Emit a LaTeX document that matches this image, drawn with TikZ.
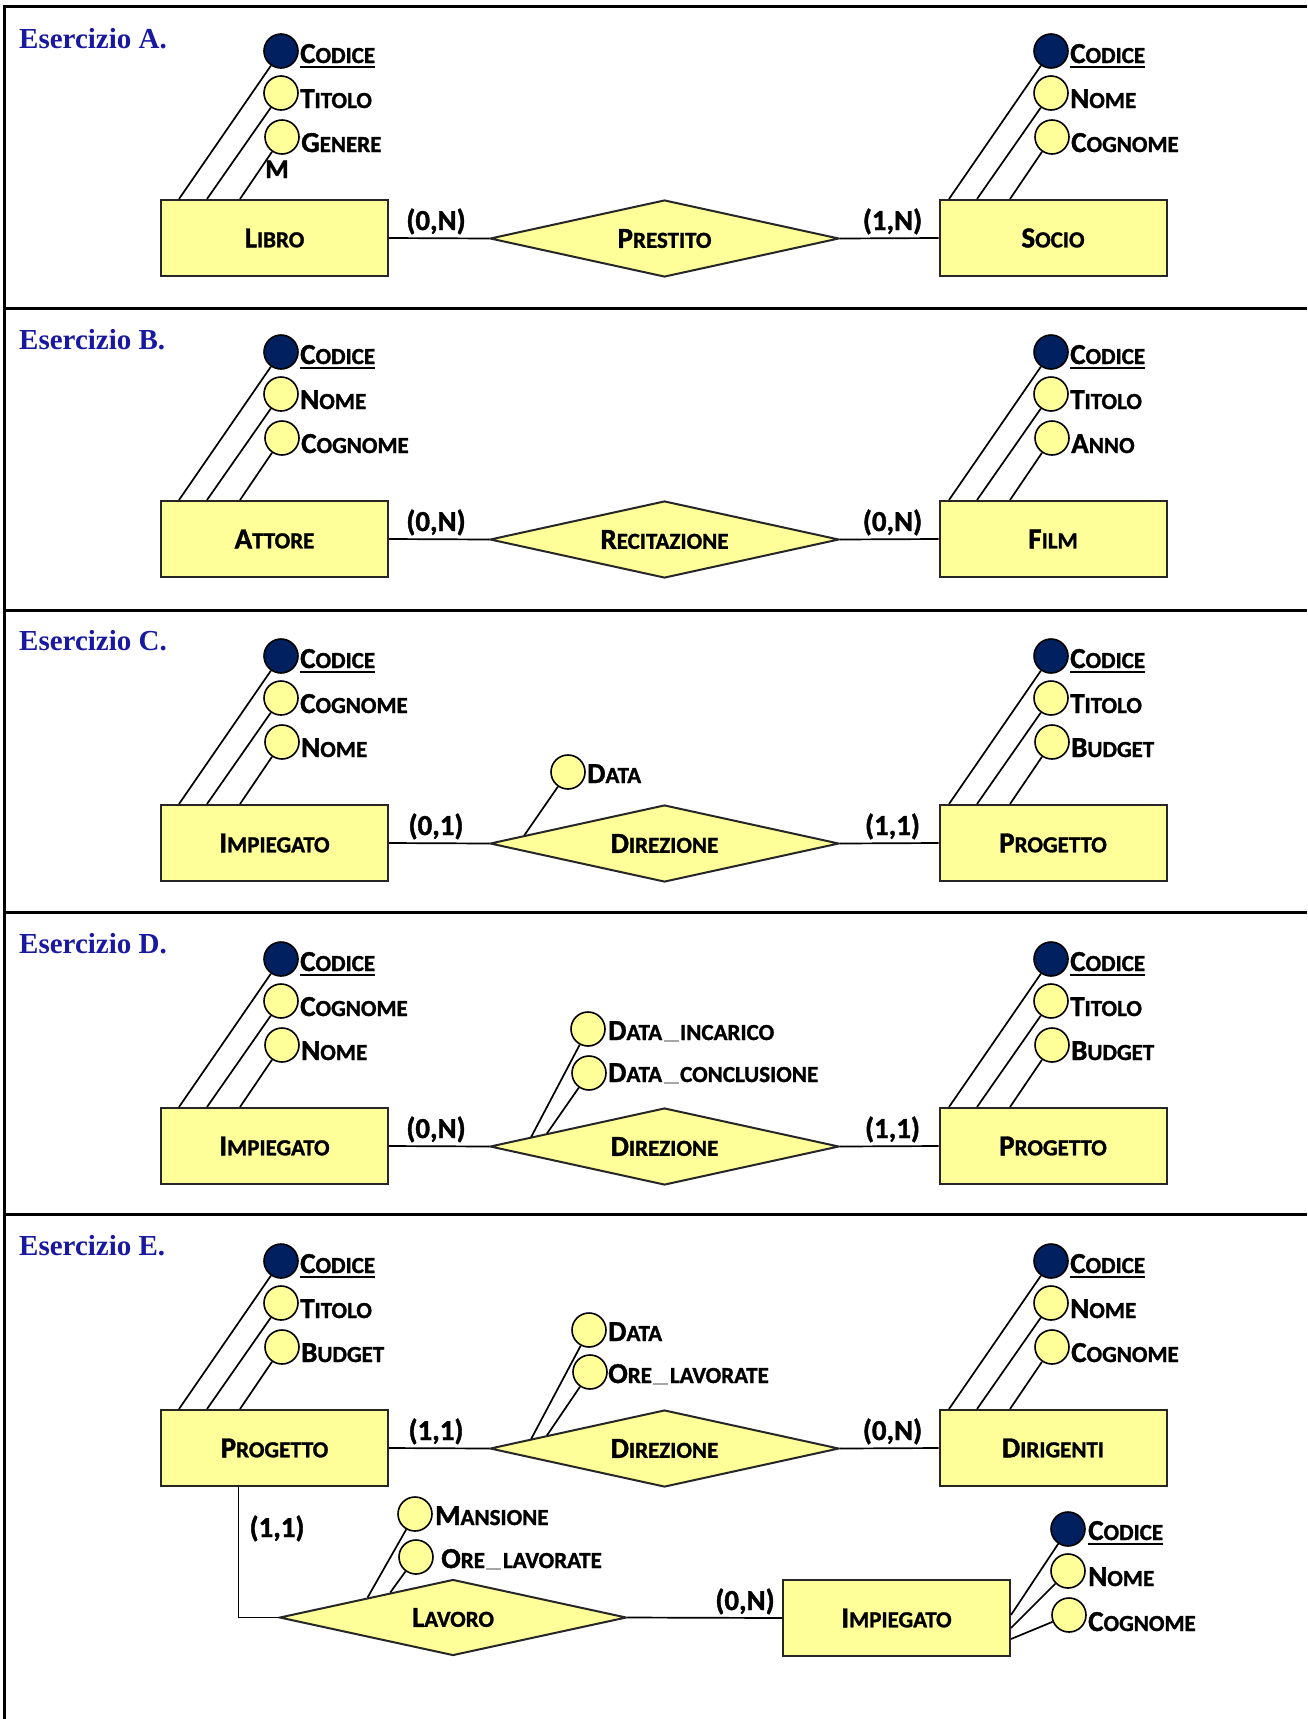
\documentclass[tikz,border=0pt]{standalone}
\usepackage{fontspec}
\setmainfont{Carlito}[BoldFeatures={FakeBold=1.3}]
\newfontfamily\titlefont{Liberation Serif}
\usetikzlibrary{shapes.geometric,calc}

\definecolor{erfill}{RGB}{255,255,153}
\definecolor{keyfill}{RGB}{0,32,96}
\definecolor{titleblue}{RGB}{24,24,160}

% small capitals: first letter full size, the rest smaller capitals
\newcommand\smc[2]{{\fontsize{29}{31}\selectfont #1}{\fontsize{23}{25}\selectfont #2}}
% light separator drawn in place of an underscore
\newcommand\us{\hspace{1.5pt}\textcolor{black!35}{\rule[-1.5pt]{15pt}{1.3pt}}\hspace{1.5pt}}
% thick underline for key attributes
\newcommand\keyul[1]{\setbox0\hbox{#1}\rlap{\rule[-5pt]{\wd0}{1.8pt}}\box0}

\tikzset{
  frame/.style={line width=3pt},
  entity/.style={draw=black!85, line width=2pt, fill=erfill, minimum width=227pt,
    minimum height=76pt, inner sep=0pt, font=\bfseries},
  relation/.style={diamond, draw=black!85, line width=2pt, fill=erfill, minimum width=349pt,
    minimum height=77pt, inner sep=0pt, shape aspect=4.5, font=\bfseries},
  attr/.style={circle, draw=black, line width=1.6pt, fill=erfill, minimum size=34pt, inner sep=0pt},
  keyattr/.style={attr, fill=keyfill},
  attrlabel/.style={anchor=base west, inner sep=0pt, font=\bfseries},
  card/.style={anchor=base, inner sep=0pt, font=\bfseries\fontsize{29}{31}\selectfont},
  title/.style={anchor=base west, inner sep=0pt, text=titleblue,
    font=\titlefont\bfseries\fontsize{29}{31}\selectfont},
  link/.style={line width=1.7pt},
}

% a column of three attributes above an entity: #1 entity, #2 prefix, #3 circle x,
% #4 key label, #5 and #6 further labels
\newcommand\attrcol[6]{%
  \node[keyattr] (#2a) at (#3,51) {};
  \node[attr] (#2b) at (#3,93) {};
  \node[attr] (#2c) at (#3+1,137) {};
  \node[attrlabel] (#2al) at ($(#2a)+(19,12)$) {\keyul{#4}};
  \node[attrlabel] (#2bl) at ($(#2b)+(19,15)$) {#5};
  \node[attrlabel] (#2cl) at ($(#2c)+(19,15)$) {#6};
  \draw[link] ($(#2a |- #1.north)+(-102,0)$) -- (#2a);
  \draw[link] ($(#2a |- #1.north)+(-74,0)$) -- (#2b);
  \draw[link] ($(#2a |- #1.north)+(-41,0)$) -- (#2c);
}

\begin{document}
\begin{tikzpicture}[x=1pt,y=-1pt]
\useasboundingbox (0,0) rectangle (1307,1719);

% page frame and separators
\draw[frame] (4,1719) -- (4,6.7) -- (1307,6.7);
\draw[frame] (4,308.7) -- (1307,308.7);
\draw[frame] (4,610.5) -- (1307,610.5);
\draw[frame] (4,912.5) -- (1307,912.5);
\draw[frame] (4,1214.5) -- (1307,1214.5);

% ---------- A ----------
\begin{scope}
  \node[title] (At) at (19,48) {Esercizio A.};
  \node[entity] (A1) at (274.5,238) {\smc{L}{IBRO}};
  \node[relation] (AR) at (664.5,238.5) {\smc{P}{RESTITO}};
  \node[entity] (A2) at (1053,238) {\smc{S}{OCIO}};
  \draw[link] (A1.east) -- (AR.west);
  \draw[link] (AR.east) -- (A2.west);
  \node[card] (Ac1) at (436,230) {(0,N)};
  \node[card] (Ac2) at (892.5,230) {(1,N)};
  \attrcol{A1}{Al}{281}{\smc{C}{ODICE}}{\smc{T}{ITOLO}}{\smc{G}{ENERE}}
  \attrcol{A2}{Ar}{1051}{\smc{C}{ODICE}}{\smc{N}{OME}}{\smc{C}{OGNOME}}
  \node[attrlabel, font=\bfseries\fontsize{27}{29}\selectfont] (Am) at (265,178) {M};
\end{scope}

% ---------- B ----------
\begin{scope}[shift={(0,301)}]
  \node[title] (Bt) at (19,48) {Esercizio B.};
  \node[entity] (B1) at (274.5,238) {\smc{A}{TTORE}};
  \node[relation] (BR) at (664.5,238.5) {\smc{R}{ECITAZIONE}};
  \node[entity] (B2) at (1053,238) {\smc{F}{ILM}};
  \draw[link] (B1.east) -- (BR.west);
  \draw[link] (BR.east) -- (B2.west);
  \node[card] (Bc1) at (436,230) {(0,N)};
  \node[card] (Bc2) at (892.5,230) {(0,N)};
  \attrcol{B1}{Bl}{281}{\smc{C}{ODICE}}{\smc{N}{OME}}{\smc{C}{OGNOME}}
  \attrcol{B2}{Br}{1051}{\smc{C}{ODICE}}{\smc{T}{ITOLO}}{\smc{A}{NNO}}
\end{scope}

% ---------- C ----------
\begin{scope}[shift={(0,605)}]
  \node[title] (Ct) at (19,45) {Esercizio C.};
  \node[entity] (C1) at (274.5,238) {\smc{I}{MPIEGATO}};
  \node[relation] (CR) at (664.5,238.5) {\smc{D}{IREZIONE}};
  \node[entity] (C2) at (1053,238) {\smc{P}{ROGETTO}};
  \draw[link] (C1.east) -- (CR.west);
  \draw[link] (CR.east) -- (C2.west);
  \node[card] (Cc1) at (436,230) {(0,1)};
  \node[card] (Cc2) at (892.5,230) {(1,1)};
  \attrcol{C1}{Cl}{281}{\smc{C}{ODICE}}{\smc{C}{OGNOME}}{\smc{N}{OME}}
  \attrcol{C2}{Cr}{1051}{\smc{C}{ODICE}}{\smc{T}{ITOLO}}{\smc{B}{UDGET}}
  \node[attr] (Cd) at (568,167) {};
  \node[attrlabel] (Cdl) at (587,178) {\smc{D}{ATA}};
  \draw[link] ($(CR.west)!0.2!(CR.north)$) -- (Cd);
\end{scope}

% ---------- D ----------
\begin{scope}[shift={(0,908)}]
  \node[title] (Dt) at (19,45) {Esercizio D.};
  \node[entity] (D1) at (274.5,238) {\smc{I}{MPIEGATO}};
  \node[relation] (DR) at (664.5,238.5) {\smc{D}{IREZIONE}};
  \node[entity] (D2) at (1053,238) {\smc{P}{ROGETTO}};
  \draw[link] (D1.east) -- (DR.west);
  \draw[link] (DR.east) -- (D2.west);
  \node[card] (Dc1) at (436,230) {(0,N)};
  \node[card] (Dc2) at (892.5,230) {(1,1)};
  \attrcol{D1}{Dl}{281}{\smc{C}{ODICE}}{\smc{C}{OGNOME}}{\smc{N}{OME}}
  \attrcol{D2}{Dr}{1051}{\smc{C}{ODICE}}{\smc{T}{ITOLO}}{\smc{B}{UDGET}}
  \node[attr] (Dd1) at (588,121) {};
  \node[attr] (Dd2) at (589,165) {};
  \node[attrlabel] (Dd1l) at (608,132) {\smc{D}{ATA\us INCARICO}};
  \node[attrlabel] (Dd2l) at (608,174) {\smc{D}{ATA\us CONCLUSIONE}};
  \draw[link] ($(DR.west)!0.24!(DR.north)$) -- (Dd1);
  \draw[link] ($(DR.west)!0.33!(DR.north)$) -- (Dd2);
\end{scope}

% ---------- E ----------
\begin{scope}[shift={(0,1210)}]
  \node[title] (Et) at (19,45) {Esercizio E.};
  \node[entity] (E1) at (274.5,238) {\smc{P}{ROGETTO}};
  \node[relation] (ER) at (664.5,238.5) {\smc{D}{IREZIONE}};
  \node[entity] (E2) at (1053,238) {\smc{D}{IRIGENTI}};
  \draw[link] (E1.east) -- (ER.west);
  \draw[link] (ER.east) -- (E2.west);
  \node[card] (Ec1) at (436,230) {(1,1)};
  \node[card] (Ec2) at (892.5,230) {(0,N)};
  \attrcol{E1}{El}{281}{\smc{C}{ODICE}}{\smc{T}{ITOLO}}{\smc{B}{UDGET}}
  \attrcol{E2}{Er}{1051}{\smc{C}{ODICE}}{\smc{N}{OME}}{\smc{C}{OGNOME}}
  \node[attr] (Ed1) at (589,120) {};
  \node[attr] (Ed2) at (590,162) {};
  \node[attrlabel] (Ed1l) at (608,131) {\smc{D}{ATA}};
  \node[attrlabel] (Ed2l) at (608,173) {\smc{O}{RE\us LAVORATE}};
  \draw[link] ($(ER.west)!0.24!(ER.north)$) -- (Ed1);
  \draw[link] ($(ER.west)!0.33!(ER.north)$) -- (Ed2);

  % second relationship: LAVORO
  \node[relation, minimum width=347pt, minimum height=76pt] (EL) at (453,407.5) {\smc{L}{AVORO}};
  \node[entity] (E3) at (896.5,408) {\smc{I}{MPIEGATO}};
  \draw[link] ([xshift=78.5pt]E1.south west) |- (EL.west);
  \draw[link] (EL.east) -- (E3.west);
  \node[card] (Ec3) at (277,327) {(1,1)};
  \node[card] (Ec4) at (745,400) {(0,N)};
  \node[attr] (Em1) at (415,304) {};
  \node[attr] (Em2) at (416,347) {};
  \node[attrlabel] (Em1l) at (435,315) {\smc{M}{ANSIONE}};
  \node[attrlabel] (Em2l) at (441,358) {\smc{O}{RE\us LAVORATE}};
  \draw[link] ($(EL.west)!0.51!(EL.north)$) -- (Em1);
  \draw[link] ($(EL.west)!0.64!(EL.north)$) -- (Em2);
  \node[keyattr] (Ei1) at (1068,319) {};
  \node[attr] (Ei2) at (1068,361) {};
  \node[attr] (Ei3) at (1069,405) {};
  \node[attrlabel] (Ei1l) at (1088,330) {\keyul{\smc{C}{ODICE}}};
  \node[attrlabel] (Ei2l) at (1088,376) {\smc{N}{OME}};
  \node[attrlabel] (Ei3l) at (1088,421) {\smc{C}{OGNOME}};
  \draw[link] ([yshift=3pt]E3.east) -- (Ei1);
  \draw[link] ([yshift=-10pt]E3.east) -- (Ei2);
  \draw[link] ([yshift=-21pt]E3.east) -- (Ei3);
\end{scope}
\end{tikzpicture}
\end{document}
